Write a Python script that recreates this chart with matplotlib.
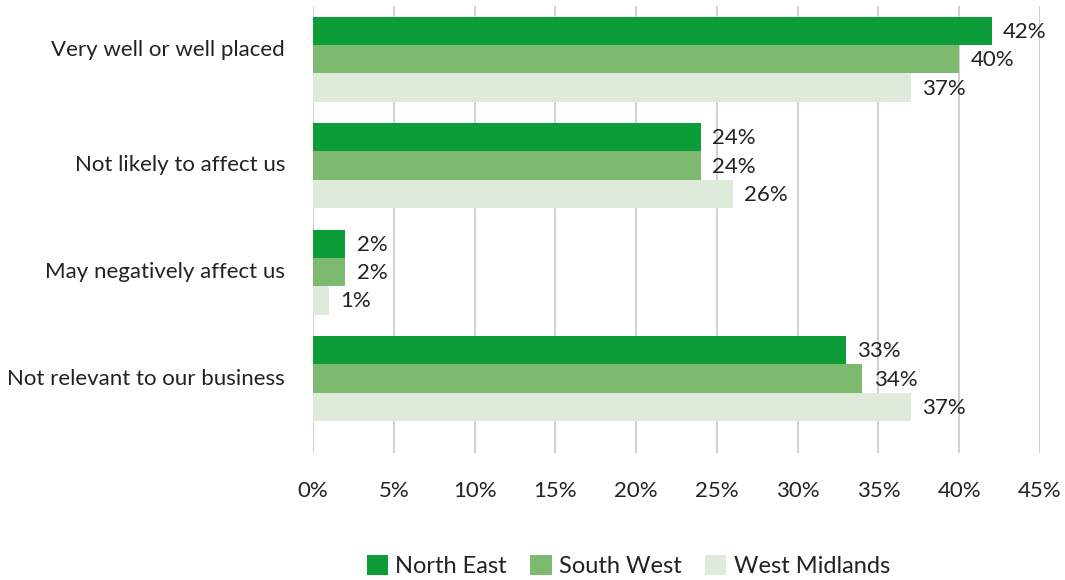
import numpy as np
import matplotlib
import matplotlib.pyplot as plt
from matplotlib.patches import Patch
from matplotlib.transforms import ScaledTranslation

categories = ["Very well or well placed", "Not likely to affect us",
              "May negatively affect us", "Not relevant to our business"]
series_names = ["North East", "South West", "West Midlands"]
north_east = [42, 24, 2, 33]
south_west = [40, 24, 2, 34]
west_midlands = [37, 26, 1, 37]
x_ticks = [0, 5, 10, 15, 20, 25, 30, 35, 40, 45]

matplotlib.rcParams['font.family'] = ["Lato", "DejaVu Sans"]

colors = ["#0C9C38", "#7DB96F", "#DFEBDA"]
text_color = "#222222"

fig = plt.figure(figsize=(10.65, 5.8), dpi=100)
ax = fig.add_axes([0.2939, 0.219, 0.6826, 0.7707])

y = np.arange(len(categories))
h = 0.266
for i, (vals, c) in enumerate(zip([north_east, south_west, west_midlands], colors)):
    pos = y + (i - 1) * h
    ax.barh(pos, vals, height=h, color=c, zorder=2)
    for p, v in zip(pos, vals):
        ax.text(v + 0.7, p + 0.01, f"{v}%", va="center", ha="left",
                fontsize=16, color=text_color)

ax.set_xlim(0, 45)
ax.set_ylim(3.7, -0.5)
ax.set_xticks(x_ticks)
ax.set_xticklabels([f"{t}%" for t in x_ticks], fontsize=16, color=text_color)
ax.set_yticks(y)
ax.set_yticklabels(categories, fontsize=16, color=text_color)
ax.tick_params(axis="x", length=0, pad=20)
ax.tick_params(axis="y", length=0, pad=20)
ax.grid(axis="x", color="#C8C8C8", linewidth=1.2, zorder=0)
for s in ax.spines.values():
    s.set_visible(False)

# category labels sit slightly above their group centres
for lbl, dy in zip(ax.get_yticklabels(), [11, 3, 2, 1.5]):
    lbl.set_transform(lbl.get_transform() + ScaledTranslation(0, dy / 100, fig.dpi_scale_trans))

handles = [Patch(facecolor=c, label=n) for c, n in zip(colors, series_names)]
fig.legend(handles=handles, loc="center", bbox_to_anchor=(0.59, 0.024),
           ncol=3, frameon=False, fontsize=17, handlelength=0.9,
           handleheight=0.9, handletextpad=0.3, columnspacing=1.0,
           labelcolor=text_color)

fig.savefig("out.png", dpi=100)
